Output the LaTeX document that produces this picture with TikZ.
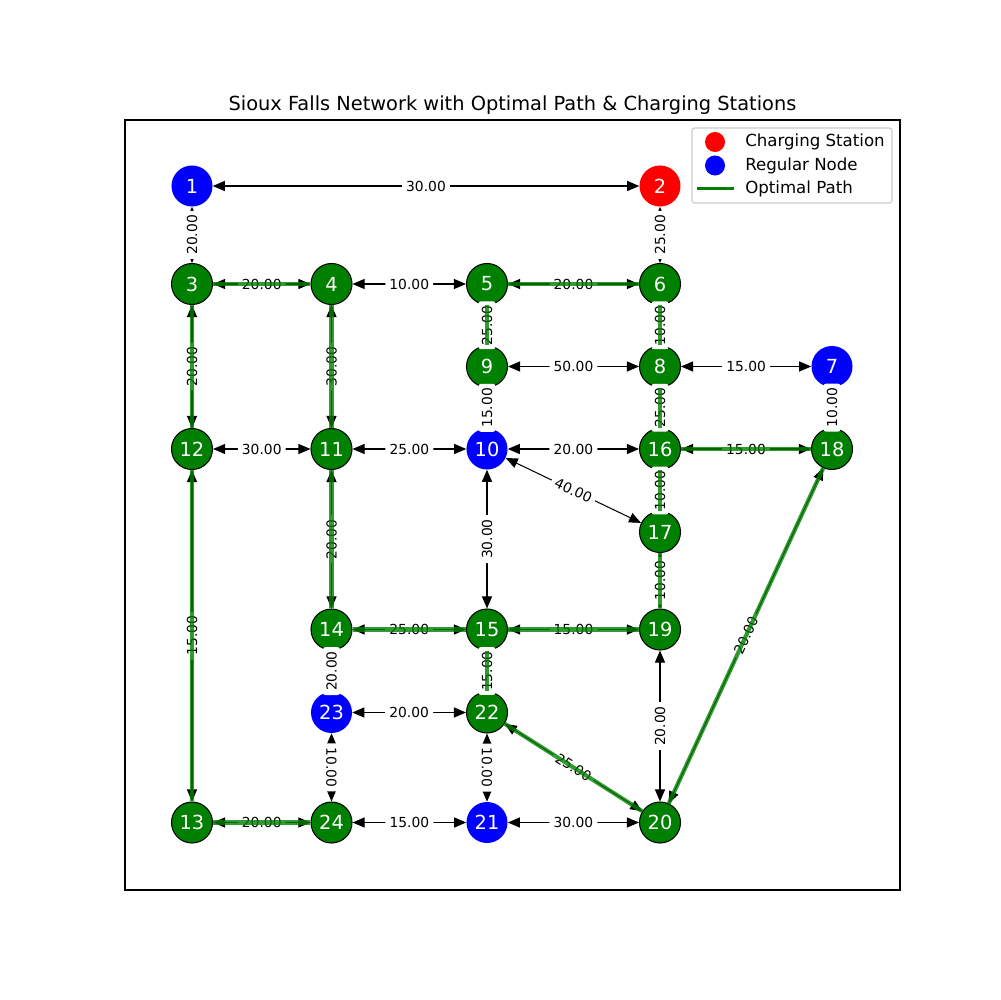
\documentclass[tikz,border=0pt]{standalone}
\usepackage{fontspec}
\setmainfont{DejaVu Sans}
\usetikzlibrary{arrows.meta}
\definecolor{pgreen}{RGB}{0,128,0}
\definecolor{pblue}{RGB}{0,0,255}
\definecolor{pred}{RGB}{255,0,0}
\begin{document}
\begin{tikzpicture}[x=0.01in,y=-0.01in]
\tikzstyle{every node}+=[inner sep=0pt]
\tikzstyle{stn}=[circle, minimum size=0.41in, text=white, font=\fontsize{14}{16}\selectfont]
\tikzstyle{onp}=[stn, fill=pgreen, draw=black, line width=0.75pt]
\tikzstyle{reg}=[stn, fill=pblue]
\tikzstyle{chg}=[stn, fill=pred]
\tikzstyle{arr}=[line width=0.75pt, {Triangle[length=0.12in,width=0.1in]}-{Triangle[length=0.12in,width=0.1in]}]
\tikzstyle{wlab}=[fill=white, inner xsep=3pt, inner ysep=2.5pt, rounded corners=2pt, font=\fontsize{10}{12}\selectfont]
\tikzstyle{opt}=[draw=pgreen, line width=3pt, opacity=0.8]
\useasboundingbox (0,0) rectangle (1000,1000);
\draw [line width=0.8pt] (125,120) rectangle (900,890);
\node (title) at (512.5,105) {\fontsize{14}{16}\selectfont Sioux Falls Network with Optimal Path \& Charging Stations};
% stations
\node [reg] (n1) at (192,186) {1};
\node [chg] (n2) at (660,186) {2};
\node [onp] (n3) at (192,284) {3};
\node [onp] (n4) at (331.5,284) {4};
\node [onp] (n5) at (487,284) {5};
\node [onp] (n6) at (660,284) {6};
\node [reg] (n7) at (832,366.5) {7};
\node [onp] (n8) at (660,366.5) {8};
\node [onp] (n9) at (487,366.5) {9};
\node [reg] (n10) at (487,449) {10};
\node [onp] (n11) at (331.5,449) {11};
\node [onp] (n12) at (192,449) {12};
\node [onp] (n13) at (192,822.5) {13};
\node [onp] (n14) at (331.5,629.5) {14};
\node [onp] (n15) at (487,629.5) {15};
\node [onp] (n16) at (660,449) {16};
\node [onp] (n17) at (660,532) {17};
\node [onp] (n18) at (832,449) {18};
\node [onp] (n19) at (660,629.5) {19};
\node [onp] (n20) at (660,822.5) {20};
\node [reg] (n21) at (487,822.5) {21};
\node [onp] (n22) at (487,712.5) {22};
\node [reg] (n23) at (331.5,712.5) {23};
\node [onp] (n24) at (331.5,822.5) {24};
% links
\draw [arr] (n1) -- node [wlab] {30.00} (n2);
\draw [arr] (n1) -- node [wlab, rotate=90] {20.00} (n3);
\draw [arr] (n2) -- node [wlab, rotate=90] {25.00} (n6);
\draw [arr] (n3) -- node [wlab] {20.00} (n4);
\draw [arr] (n4) -- node [wlab] {10.00} (n5);
\draw [arr] (n5) -- node [wlab] {20.00} (n6);
\draw [arr] (n3) -- node [wlab, rotate=90] {20.00} (n12);
\draw [arr] (n4) -- node [wlab, rotate=90] {30.00} (n11);
\draw [arr] (n5) -- node [wlab, rotate=90] {25.00} (n9);
\draw [arr] (n6) -- node [wlab, rotate=90] {10.00} (n8);
\draw [arr] (n9) -- node [wlab] {50.00} (n8);
\draw [arr] (n8) -- node [wlab] {15.00} (n7);
\draw [arr] (n7) -- node [wlab, rotate=90] {10.00} (n18);
\draw [arr] (n9) -- node [wlab, rotate=90] {15.00} (n10);
\draw [arr] (n8) -- node [wlab, rotate=90] {25.00} (n16);
\draw [arr] (n12) -- node [wlab] {30.00} (n11);
\draw [arr] (n11) -- node [wlab] {25.00} (n10);
\draw [arr] (n10) -- node [wlab] {20.00} (n16);
\draw [arr] (n16) -- node [wlab] {15.00} (n18);
\draw [arr] (n10) -- node [wlab, rotate=-25.6] {40.00} (n17);
\draw [arr] (n16) -- node [wlab, rotate=90] {10.00} (n17);
\draw [arr] (n17) -- node [wlab, rotate=90] {10.00} (n19);
\draw [arr] (n10) -- node [wlab, rotate=90] {30.00} (n15);
\draw [arr] (n11) -- node [wlab, rotate=90] {20.00} (n14);
\draw [arr] (n12) -- node [wlab, rotate=90] {15.00} (n13);
\draw [arr] (n14) -- node [wlab] {25.00} (n15);
\draw [arr] (n15) -- node [wlab] {15.00} (n19);
\draw [arr] (n14) -- node [wlab, rotate=90] {20.00} (n23);
\draw [arr] (n15) -- node [wlab, rotate=90] {15.00} (n22);
\draw [arr] (n19) -- node [wlab, rotate=90] {20.00} (n20);
\draw [arr] (n23) -- node [wlab] {20.00} (n22);
\draw [arr] (n23) -- node [wlab, rotate=-90] {10.00} (n24);
\draw [arr] (n22) -- node [wlab, rotate=-90] {10.00} (n21);
\draw [arr] (n22) -- node [wlab, rotate=-32.3] {25.00} (n20);
\draw [arr] (n20) -- node [wlab, rotate=65.4] {20.00} (n18);
\draw [arr] (n13) -- node [wlab] {20.00} (n24);
\draw [arr] (n24) -- node [wlab] {15.00} (n21);
\draw [arr] (n21) -- node [wlab] {30.00} (n20);
% optimal path
\draw [opt] (n3) -- (n4);
\draw [opt] (n3) -- (n12);
\draw [opt] (n4) -- (n11);
\draw [opt] (n5) -- (n6);
\draw [opt] (n5) -- (n9);
\draw [opt] (n6) -- (n8);
\draw [opt] (n8) -- (n16);
\draw [opt] (n16) -- (n18);
\draw [opt] (n16) -- (n17);
\draw [opt] (n17) -- (n19);
\draw [opt] (n15) -- (n19);
\draw [opt] (n14) -- (n15);
\draw [opt] (n11) -- (n14);
\draw [opt] (n12) -- (n13);
\draw [opt] (n13) -- (n24);
\draw [opt] (n15) -- (n22);
\draw [opt] (n22) -- (n20);
\draw [opt] (n20) -- (n18);
% legend
\draw [draw=black!20, fill=white, fill opacity=0.8, rounded corners=2pt, line width=0.8pt] (692,128) rectangle (892,203);
\node [circle, fill=pred, minimum size=0.2in] (kchg) at (715,142) {};
\node [circle, fill=pblue, minimum size=0.2in] (kreg) at (715,165.5) {};
\coordinate (kpa) at (697,188.5);
\coordinate (kpb) at (734,188.5);
\draw [draw=pgreen, line width=2.2pt] (kpa) -- (kpb);
\node [anchor=west, font=\fontsize{12}{14}\selectfont] (tchg) at (745,142) {Charging Station};
\node [anchor=west, font=\fontsize{12}{14}\selectfont] (treg) at (745,165.5) {Regular Node};
\node [anchor=west, font=\fontsize{12}{14}\selectfont] (topt) at (745,188.5) {Optimal Path};
\end{tikzpicture}
\end{document}
